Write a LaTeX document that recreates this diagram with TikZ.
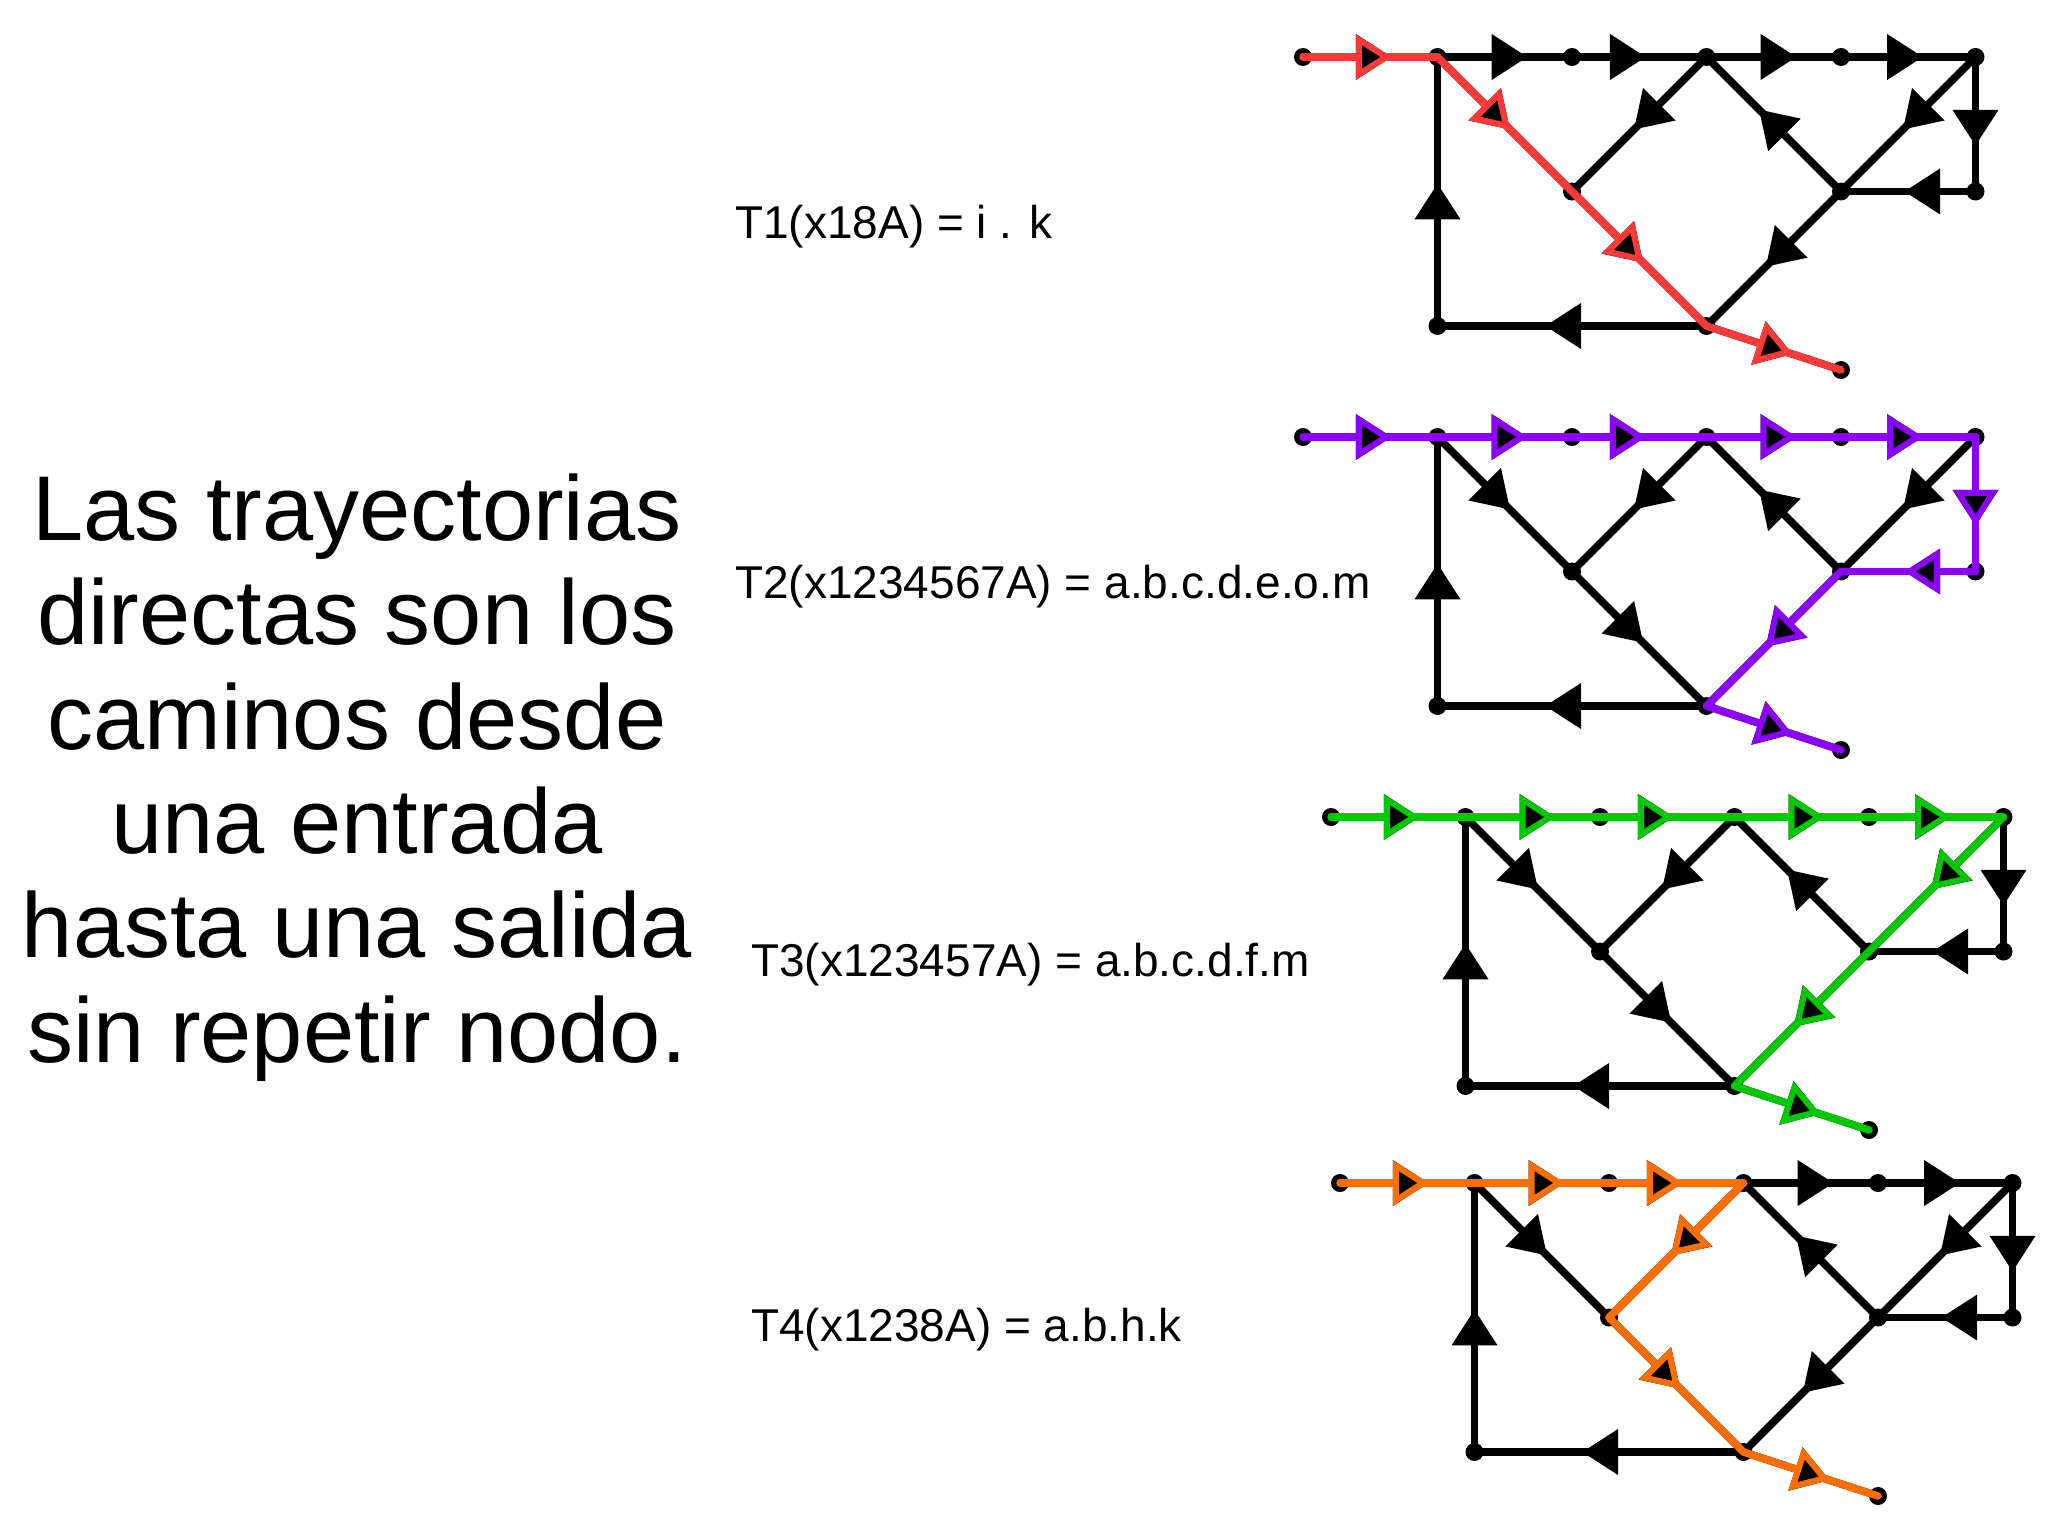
\documentclass[tikz,border=0pt]{standalone}
\usepackage{fontspec}
\setmainfont{Liberation Sans}
\usetikzlibrary{arrows.meta,decorations.markings}
\pgfdeclarelayer{bg}
\pgfdeclarelayer{fg}
\pgfsetlayers{bg,main,fg}

\definecolor{cred}{HTML}{FF3838}
\definecolor{cpurple}{HTML}{8C00FF}
\definecolor{cgreen}{HTML}{00C800}
\definecolor{corange}{HTML}{FF6E00}

\tikzset{
  dotnode/.style={circle, fill=black, inner sep=0pt, minimum size=18pt},
  blk/.style={line width=7.5pt, black},
  arr/.style={postaction={decorate, decoration={markings,
      mark=at position #1 with {\arrow{Triangle[length=36pt,width=44pt]}}}}},
  hledge/.style={line width=7.5pt, line cap=round},
  hlarr/.style={postaction={decorate, decoration={markings,
      mark=at position #1 with {\arrow{Triangle[length=36pt,width=44pt,fill=black,line width=6pt]}}}}},
  bigtext/.style={font=\fontsize{92}{104}\selectfont, anchor=base, inner sep=0pt},
  pathlabel/.style={font=\fontsize{46}{55}\selectfont, anchor=base west, inner sep=0pt}
}

\newcommand\alledges{E/A/0.66, A/B/0.67, B/C/0.55, C/D/0.67, D/F/0.61, F/R/0.66, R/H/0.53, F/H/0.54, H/C/0.61, C/G/0.54, A/G/0.54, G/M/0.53, H/M/0.56, M/L/0.6, L/A/0.53, M/X/0.64}

\newcommand\mygraph[4]{%
\begin{scope}[shift={#2}]
  \node[dotnode] (#1E) at (0,0) {};
  \node[dotnode] (#1A) at (134.5,0) {};
  \node[dotnode] (#1B) at (269,0) {};
  \node[dotnode] (#1C) at (403.5,0) {};
  \node[dotnode] (#1D) at (538,0) {};
  \node[dotnode] (#1F) at (672.5,0) {};
  \node[dotnode] (#1G) at (269,134.5) {};
  \node[dotnode] (#1H) at (538,134.5) {};
  \node[dotnode] (#1R) at (672.5,134.5) {};
  \node[dotnode] (#1L) at (134.5,269) {};
  \node[dotnode] (#1M) at (403.5,269) {};
  \node[dotnode] (#1X) at (538,313) {};
  \begin{pgfonlayer}{bg}
    \foreach \a/\b/\p in \alledges {\draw[blk, arr=\p] (#1\a.center) -- (#1\b.center);}
  \end{pgfonlayer}
  \begin{pgfonlayer}{fg}
    \foreach \a/\b/\p in {#4} {\draw[hledge, color=#3, hlarr=\p] (#1\a.center) -- (#1\b.center);}
  \end{pgfonlayer}
\end{scope}}

\begin{document}
\begin{tikzpicture}[x=1pt, y=-1pt]
\begin{pgfonlayer}{bg}
  \fill[white] (0,0) rectangle (2048,1536);
\end{pgfonlayer}
\useasboundingbox (0,0) rectangle (2048,1536);

\node[bigtext] (l1) at (357,540) {Las trayectorias};
\node[bigtext] (l2) at (357,644.5) {directas son los};
\node[bigtext] (l3) at (357,749) {caminos desde};
\node[bigtext] (l4) at (357,853) {una entrada};
\node[bigtext] (l5) at (357,957.5) {hasta una salida};
\node[bigtext] (l6) at (357,1062) {sin repetir nodo.};

\node[pathlabel] (t1) at (735,238) {T1(x18A) = i . k};
\node[pathlabel] (t2) at (735,598) {T2(x1234567A) = a.b.c.d.e.o.m};
\node[pathlabel] (t3) at (751,976) {T3(x123457A) = a.b.c.d.f.m};
\node[pathlabel] (t4) at (751,1341) {T4(x1238A) = a.b.h.k};

\mygraph{ga}{(1303,57)}{cred}{E/A/0.66, A/G/0.54, G/M/0.53, M/X/0.64}
\mygraph{gb}{(1303,437)}{cpurple}{E/A/0.66, A/B/0.67, B/C/0.55, C/D/0.67, D/F/0.61, F/R/0.66, R/H/0.53, H/M/0.56, M/X/0.64}
\mygraph{gc}{(1331,817)}{cgreen}{E/A/0.66, A/B/0.67, B/C/0.55, C/D/0.67, D/F/0.61, F/H/0.54, H/M/0.56, M/X/0.64}
\mygraph{gd}{(1340,1183)}{corange}{E/A/0.66, A/B/0.67, B/C/0.55, C/G/0.54, G/M/0.53, M/X/0.64}
\end{tikzpicture}
\end{document}
